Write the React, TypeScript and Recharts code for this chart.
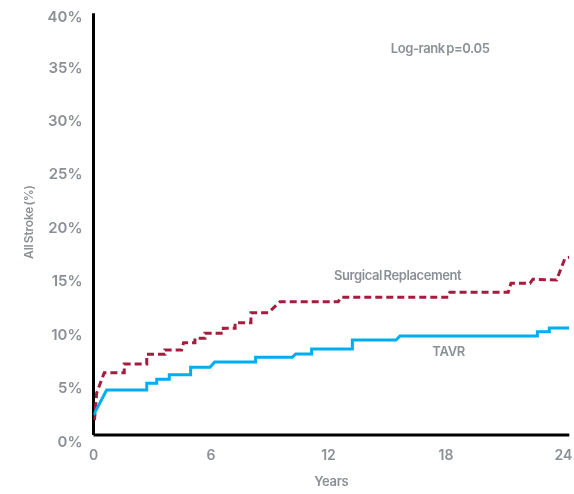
import React from 'react';
import { LineChart, Line, XAxis, YAxis, ReferenceLine, ReferenceDot } from 'recharts';

// Months since procedure and cumulative stroke rate (%)
const tavrMonths = [0, 0.67, 2.72, 2.72, 3.23, 3.23, 3.87, 3.87, 4.96, 4.96, 5.95, 6.19, 8.28, 8.28, 10.15, 10.33, 11.14, 11.14, 13.22, 13.22, 15.45, 15.65, 22.67, 22.67, 23.28, 23.28, 24.3];
const tavrStroke = [2.48, 4.82, 4.82, 5.44, 5.44, 5.82, 5.82, 6.25, 6.25, 6.94, 6.94, 7.43, 7.43, 7.87, 7.87, 8.18, 8.18, 8.65, 8.65, 9.49, 9.49, 9.86, 9.86, 10.27, 10.27, 10.61, 10.61];

const savrMonths = [0.05, 0.16, 0.55, 1.57, 1.57, 2.72, 2.72, 3.65, 3.65, 4.5, 4.6, 5.18, 5.18, 5.69, 5.69, 6.63, 6.63, 7.23, 7.23, 8.04, 8.04, 8.93, 9.52, 12.5, 12.64, 18.12, 18.2, 21.18, 21.32, 22.29, 22.44, 23.65, 24.08, 24.3];
const savrStroke = [2.0, 4.53, 6.43, 6.43, 7.25, 7.25, 8.15, 8.15, 8.56, 8.56, 9.24, 9.24, 9.65, 9.65, 10.12, 10.12, 10.58, 10.58, 11.11, 11.11, 12.04, 12.04, 13.07, 13.07, 13.48, 13.48, 13.95, 13.95, 14.79, 14.79, 15.17, 15.1, 17.13, 17.22];

const xTicks = [0, 6, 12, 18, 24];
const yTicks = [0, 5, 10, 15, 20, 25, 30, 35, 40];

const pValueText = 'Log-rank p=0.05';
const savrLabel = 'Surgical Replacement';
const tavrLabel = 'TAVR';
const xTitle = 'Years';
const yTitle = 'All Stroke (%)';

const tavrData = tavrMonths.map((t, i) => ({ t, v: tavrStroke[i] }));
const savrData = savrMonths.map((t, i) => ({ t, v: savrStroke[i] }));

const GRAY = '#8b9097';
const FONT = 'Inter, "Liberation Sans", Arial, sans-serif';
const BLUE = '#00aeef';
const RED = '#a51c3e';

export default function App() {
  return (
    <div style={{ position: 'fixed', left: 8, top: 8, width: 566, height: 486, fontFamily: FONT }}>
      <LineChart width={566} height={486} margin={{ top: 5.7, right: 4.7, left: 0, bottom: 0 }}>
        <XAxis
          type="number"
          dataKey="t"
          domain={[0, 24.3]}
          ticks={xTicks}
          allowDataOverflow
          axisLine={false}
          tickLine={false}
          tickSize={0}
          tickMargin={8.5}
          height={52.5}
          tick={{ fill: GRAY, fontSize: 14, fontWeight: 600, fontFamily: FONT }}
          label={{ value: xTitle, position: 'insideBottom', offset: 8, fill: GRAY, fontSize: 13, fontWeight: 600, fontFamily: FONT, letterSpacing: -0.3 }}
        />
        <YAxis
          type="number"
          domain={[0, 40]}
          ticks={yTicks}
          allowDataOverflow
          axisLine={false}
          tickLine={false}
          tickSize={0}
          tickMargin={11}
          width={85.5}
          tickFormatter={(v) => `${v}%`}
          tick={{ fill: GRAY, fontSize: 15, fontWeight: 600, fontFamily: FONT }}
          label={(props: any) => {
            const vb = props.viewBox || { x: 0, y: 0 };
            const cx = vb.x + 20;
            const cy = 214;
            return (
              <text
                x={cx}
                y={cy}
                transform={`rotate(-90, ${cx}, ${cy})`}
                textAnchor="middle"
                dominantBaseline="central"
                fill={GRAY}
                fontSize={12}
                fontWeight={600}
                fontFamily={FONT}
                wordSpacing={-1.5}
                letterSpacing={-0.2}
              >
                {yTitle}
              </text>
            );
          }}
        />
        <ReferenceLine
          segment={[{ x: 0, y: 0.61 }, { x: 0, y: 40.05 }]}
          stroke="#000"
          strokeWidth={3}
          ifOverflow="visible"
        />
        <ReferenceLine
          segment={[{ x: 0, y: 0.61 }, { x: 24.3, y: 0.61 }]}
          stroke="#000"
          strokeWidth={3}
          ifOverflow="visible"
        />
        <Line
          data={savrData}
          dataKey="v"
          type="linear"
          stroke={RED}
          strokeWidth={3}
          strokeDasharray="7 4"
          dot={false}
          activeDot={false}
          isAnimationActive={false}
        />
        <Line
          data={tavrData}
          dataKey="v"
          type="linear"
          stroke={BLUE}
          strokeWidth={3}
          dot={false}
          activeDot={false}
          isAnimationActive={false}
        />
        <ReferenceDot
          x={17.7}
          y={36.8}
          r={0}
          fill="none"
          stroke="none"
          ifOverflow="visible"
          label={{ value: pValueText, position: 'center', fill: GRAY, fontSize: 13, fontWeight: 600, fontFamily: FONT, wordSpacing: -1.5, letterSpacing: -0.4 }}
        />
        <ReferenceDot
          x={15.53}
          y={15.57}
          r={0}
          fill="none"
          stroke="none"
          ifOverflow="visible"
          label={{ value: savrLabel, position: 'center', fill: GRAY, fontSize: 13, fontWeight: 600, fontFamily: FONT, wordSpacing: -1.5, letterSpacing: -0.4 }}
        />
        <ReferenceDot
          x={18.14}
          y={8.4}
          r={0}
          fill="none"
          stroke="none"
          ifOverflow="visible"
          label={{ value: tavrLabel, position: 'center', fill: GRAY, fontSize: 13, fontWeight: 600, fontFamily: FONT, letterSpacing: -0.3 }}
        />
      </LineChart>
    </div>
  );
}
